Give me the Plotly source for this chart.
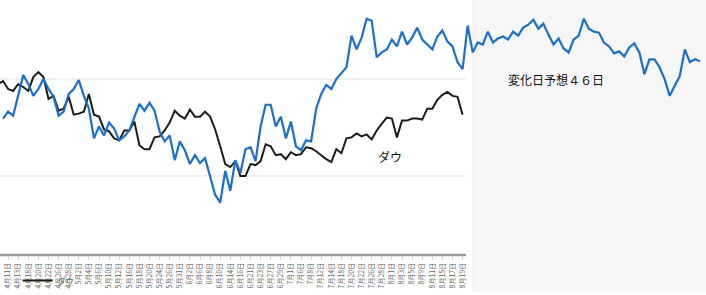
import plotly.graph_objects as go

# ---- data -------------------------------------------------------------
month_days = {
    4: [7, 8, 11, 12, 13, 14, 18, 19, 20, 21, 22, 25, 26, 27, 28, 29],
    5: [2, 3, 4, 5, 6, 9, 10, 11, 12, 13, 16, 17, 18, 19, 20, 23, 24, 25, 26, 27, 31],
    6: [1, 2, 3, 6, 7, 8, 9, 10, 13, 14, 15, 16, 17, 21, 22, 23, 24, 27, 28, 29, 30],
    7: [1, 5, 6, 7, 8, 11, 12, 13, 14, 15, 18, 19, 20, 21, 22, 25, 26, 27, 28, 29],
    8: [1, 2, 3, 4, 5, 8, 9, 10, 11, 12, 15, 16, 17, 18, 19],
}
dates = [f"{m}月{d}日" for m, days in month_days.items() for d in days]

dow = [173, 176, 168, 166, 173, 170, 166, 180, 185, 180,
       158, 161, 146, 148, 160, 142, 143, 145, 163, 142,
       140, 127, 125, 118, 116, 126, 126, 135, 111, 107,
       107, 119, 120, 126, 134, 146, 141, 138, 147, 140,
       140, 145, 140, 127, 110, 92, 89, 95, 80, 80,
       92, 91, 95, 112, 110, 101, 102, 97, 104, 101,
       102, 109, 108, 105, 101, 97, 94, 107, 103, 118,
       119, 123, 120, 122, 117, 126, 133, 139, 138, 119,
       136, 136, 138, 138, 137, 148, 148, 157, 162, 165,
       161, 160, 142]

shifted = [None, 138, 145, 141, 161, 182, 173, 161, 168, 178,
           168, 160, 141, 145, 163, 168, 177, 161, 148, 118,
           130, 121, 134, 128, 116, 120, 126, 140, 153, 146,
           154, 146, 125, 115, 121, 96, 115, 106, 92, 101,
           93, 98, 78, 61, 53, 85, 65, 96, 83, 107,
           109, 95, 130, 152, 152, 130, 140, 118, 135, 110,
           106, 116, 115, 148, 163, 172, 168, 178, 184, 190,
           222, 208, 220, 239, 237, 200, 205, 208, 218, 211,
           226, 213, 220, 230, 218, 213, 208, 221, 227, 216,
           211, 195, 188, 232, 205, 215, 213, 226, 215, 219,
           221, 218, 226, 222, 230, 233, 238, 229, 234, 223,
           213, 219, 209, 205, 218, 222, 239, 229, 226, 225,
           215, 211, 204, 206, 201, 210, 214, 205, 183, 198,
           198, 190, 178, 161, 171, 181, 208, 195, 198, 196]

grid_values = [80, 178]
label_step = 2

# ---- figure -----------------------------------------------------------
x_dow = list(range(len(dow)))
x_shift = list(range(len(shifted)))
tick_idx = list(range(0, len(dates), label_step))

W, H = 706, 295
left_w = 466 / W
panel_x0 = 473 / W

fig = go.Figure()
fig.add_trace(go.Scatter(
    x=x_dow, y=dow, mode="lines", name="ダウ",
    line=dict(color="#1c1c1c", width=2),
))
fig.add_trace(go.Scatter(
    x=x_shift, y=shifted, mode="lines", name="日経平均", showlegend=False,
    line=dict(color="#1a6fcf", width=2.2),
))

shapes = [
    dict(type="rect", xref="paper", yref="paper", x0=panel_x0, x1=1,
         y0=-37 / 258, y1=1, fillcolor="#f6f6f6", line=dict(width=0), layer="below"),
    dict(type="line", xref="paper", yref="paper", x0=panel_x0, x1=panel_x0,
         y0=-37 / 258, y1=1, line=dict(color="#ececec", width=1), layer="below"),
]
for g in grid_values:
    shapes.append(dict(type="line", xref="paper", yref="y", x0=0, x1=left_w,
                       y0=g, y1=g, line=dict(color="#e3e3e3", width=1), layer="below"))
shapes.append(dict(type="line", xref="paper", yref="paper", x0=0, x1=left_w,
                   y0=0, y1=0, line=dict(color="#9a9a9a", width=2.5), layer="above"))

fig.update_layout(
    width=W, height=H,
    margin=dict(l=0, r=0, t=0, b=37),
    paper_bgcolor="white", plot_bgcolor="white",
    font=dict(family="Noto Sans CJK JP, sans-serif"),
    shapes=shapes,
    showlegend=True,
    legend=dict(x=0.025, y=-0.1, xanchor="left", yanchor="middle",
                bgcolor="rgba(0,0,0,0)", font=dict(size=8, color="#555"),
                itemwidth=30),
    annotations=[
        dict(x=77.6, y=100, xref="x", yref="y", text="ダウ", showarrow=False,
             font=dict(size=12, color="#111")),
        dict(x=110.5, y=178, xref="x", yref="y", text="変化日予想４６日", showarrow=False,
             font=dict(size=12, color="#111")),
    ],
)
fig.update_xaxes(
    range=[2 / 5.05, 708 / 5.05],
    tickvals=tick_idx, ticktext=[dates[i] for i in tick_idx],
    tickangle=-90, tickfont=dict(size=7, color="#666"),
    ticks="outside", ticklen=4, tickcolor="#d0d0d0",
    showgrid=False, zeroline=False, showline=False,
)
fig.update_yaxes(range=[0, 258], showgrid=False, zeroline=False,
                 showticklabels=False, showline=False)

fig.write_html("out.html")
